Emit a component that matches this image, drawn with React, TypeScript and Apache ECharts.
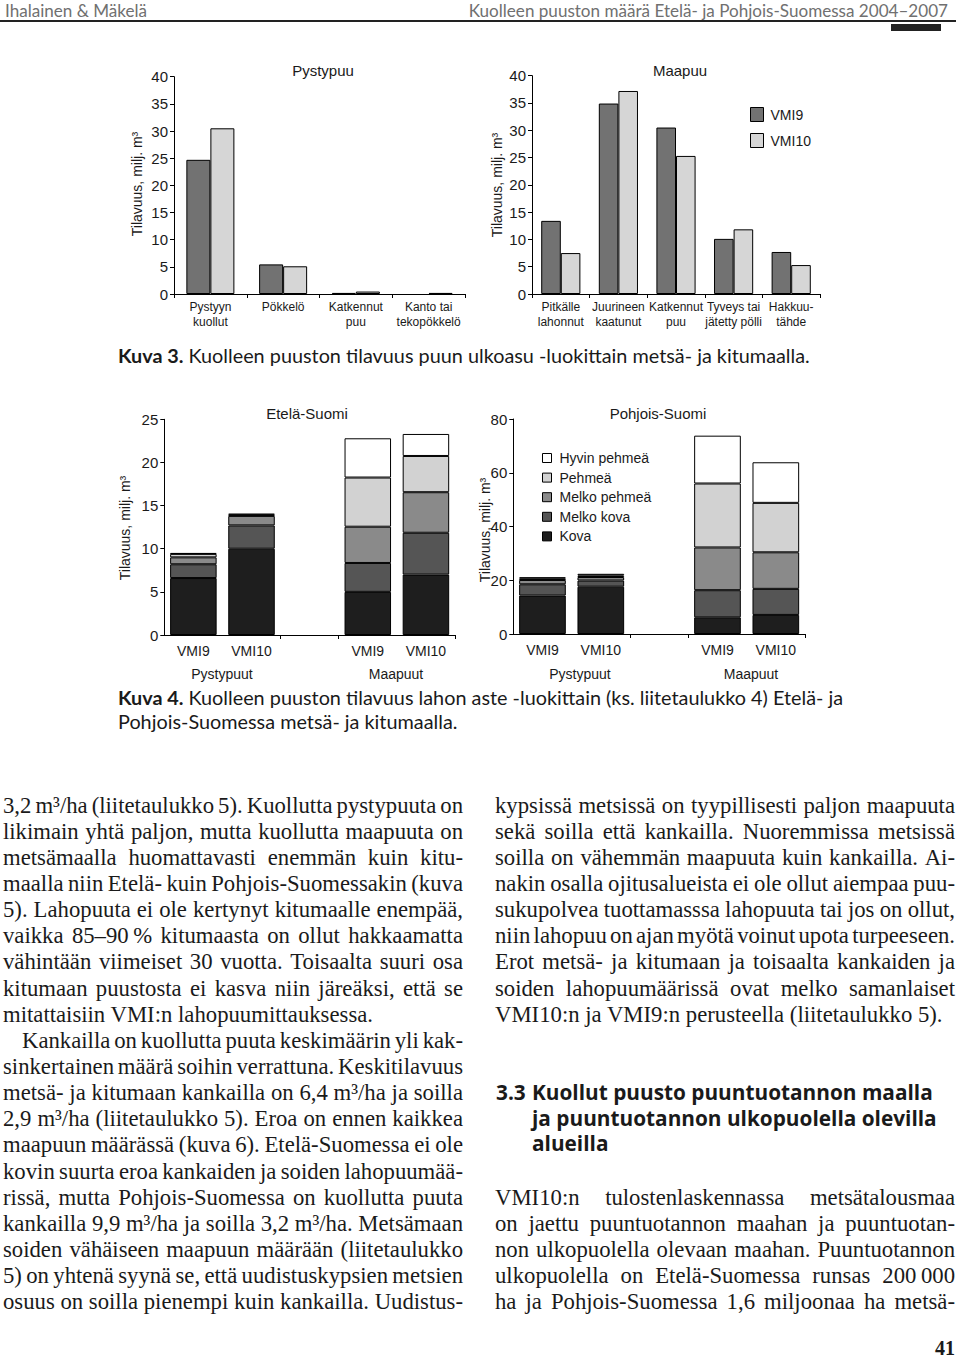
import React, { useEffect, useRef } from "react";
import * as echarts from "echarts";

// ---------- Kuva 3 data ----------
const inventories = ["VMI9", "VMI10"];
const standingCats = ["Pystyyn\nkuollut", "Pökkelö", "Katkennut\npuu", "Kanto tai\ntekopökkelö"];
const standingVMI9 = [24.7, 5.45, 0.2, null];
const standingVMI10 = [30.5, 5.1, 0.45, 0.2];
const lyingCats = ["Pitkälle\nlahonnut", "Juurineen\nkaatunut", "Katkennut\npuu", "Tyveys tai\njätetty pölli", "Hakkuu-\ntähde"];
const lyingVMI9 = [13.4, 34.9, 30.5, 10.1, 7.7];
const lyingVMI10 = [7.5, 37.2, 25.3, 11.85, 5.3];

// ---------- Kuva 4 data ----------
const decayCats = ["VMI9", "VMI10", "", "VMI9", "VMI10"];
const decayClasses = ["Kova", "Melko kova", "Melko pehmeä", "Pehmeä", "Hyvin pehmeä"];
const legendOrder = ["Hyvin pehmeä", "Pehmeä", "Melko pehmeä", "Melko kova", "Kova"];
const southKova = [6.6, 10.0, null, 5.0, 7.0];
const southMelkoKova = [1.6, 2.7, null, 3.35, 4.85];
const southMelkoPehmea = [0.8, 1.1, null, 4.2, 4.7];
const southPehmea = [0.4, 0.15, null, 5.7, 4.2];
const southHyvinPehmea = [0.1, 0.1, null, 4.55, 2.55];
const northKova = [14.3, 17.6, null, 6.2, 7.1];
const northMelkoKova = [4.2, 2.3, null, 10.1, 9.7];
const northMelkoPehmea = [1.6, 1.3, null, 15.9, 13.6];
const northPehmea = [0.6, 0.6, null, 23.8, 18.4];
const northHyvinPehmea = [0.4, 0.6, null, 17.8, 15.1];
const groupLabels = ["Pystypuut", "Maapuut"];

// ---------- Page text ----------
const headerLeft = "Ihalainen & Mäkelä";
const headerRight = "Kuolleen puuston määrä Etelä- ja Pohjois-Suomessa 2004–2007";
const caption3 = ["Kuva 3.", "Kuolleen puuston tilavuus puun ulkoasu -luokittain metsä- ja kitumaalla."];
const caption4a = ["Kuva 4.", "Kuolleen puuston tilavuus lahon aste -luokittain (ks. liitetaulukko 4) Etelä- ja"];
const caption4b = "Pohjois-Suomessa metsä- ja kitumaalla.";
const yName = "Tilavuus, milj. m³";

const leftCol = [
  "3,2 m³/ha (liitetaulukko 5). Kuollutta pystypuuta on",
  "likimain yhtä paljon, mutta kuollutta maapuuta on",
  "metsämaalla huomattavasti enemmän kuin kitu-",
  "maalla niin Etelä- kuin Pohjois-Suomessakin (kuva",
  "5). Lahopuuta ei ole kertynyt kitumaalle enempää,",
  "vaikka 85–90\u2009% kitumaasta on ollut hakkaamatta",
  "vähintään viimeiset 30 vuotta. Toisaalta suuri osa",
  "kitumaan puustosta ei kasva niin järeäksi, että se",
  "mitattaisiin VMI:n lahopuumittauksessa.",
  "Kankailla on kuollutta puuta keskimäärin yli kak-",
  "sinkertainen määrä soihin verrattuna. Keskitilavuus",
  "metsä- ja kitumaan kankailla on 6,4 m³/ha ja soilla",
  "2,9 m³/ha (liitetaulukko 5). Eroa on ennen kaikkea",
  "maapuun määrässä (kuva 6). Etelä-Suomessa ei ole",
  "kovin suurta eroa kankaiden ja soiden lahopuumää-",
  "rissä, mutta Pohjois-Suomessa on kuollutta puuta",
  "kankailla 9,9 m³/ha ja soilla 3,2 m³/ha. Metsämaan",
  "soiden vähäiseen maapuun määrään (liitetaulukko",
  "5) on yhtenä syynä se, että uudistuskypsien metsien",
  "osuus on soilla pienempi kuin kankailla. Uudistus-",
];
const leftLast = [8];
const leftIndent = [9];
const rightCol = [
  "kypsissä metsissä on tyypillisesti paljon maapuuta",
  "sekä soilla että kankailla. Nuoremmissa metsissä",
  "soilla on vähemmän maapuuta kuin kankailla. Ai-",
  "nakin osalla ojitusalueista ei ole ollut aiempaa puu-",
  "sukupolvea tuottamasssa lahopuuta tai jos on ollut,",
  "niin lahopuu on ajan myötä voinut upota turpeeseen.",
  "Erot metsä- ja kitumaan ja toisaalta kankaiden ja",
  "soiden lahopuumäärissä ovat melko samanlaiset",
  "VMI10:n ja VMI9:n perusteella (liitetaulukko 5).",
];
const headingNum = "3.3";
const headingLines = ["Kuollut puusto puuntuotannon maalla", "ja puuntuotannon ulkopuolella olevilla", "alueilla"];
const rightCol2 = [
  "VMI10:n tulostenlaskennassa metsätalousmaa",
  "on jaettu puuntuotannon maahan ja puuntuotan-",
  "non ulkopuolella olevaan maahan. Puuntuotannon",
  "ulkopuolella on Etelä-Suomessa runsas 200\u2009000",
  "ha ja Pohjois-Suomessa 1,6 miljoonaa ha metsä-",
];
const pageNo = "41";

const SANS = '"Liberation Sans", Arial, sans-serif';
const SERIF = '"Liberation Serif", "Times New Roman", serif';
const GILL = 'Lato, "Open Sans", sans-serif';
const HEAD = '"Open Sans", Lato, sans-serif';
const INK = "#1a1a1a";

const C_VMI9 = "#727272";
const C_VMI10 = "#d6d6d6";
const decayColors: Record<string, string> = {
  "Kova": "#1e1e1e",
  "Melko kova": "#555555",
  "Melko pehmeä": "#8a8a8a",
  "Pehmeä": "#d2d2d2",
  "Hyvin pehmeä": "#ffffff",
};

export default function App() {
  const ref = useRef<HTMLDivElement>(null);
  useEffect(() => {
    const chart = echarts.init(ref.current!, null, { renderer: "svg" });
    const cv = document.createElement("canvas");
    const ctx = cv.getContext("2d")!;
    const fontStr = (size: number, fam: string, weight = "normal") => `${weight} ${size}px ${fam}`;
    const tw = (s: string, size: number, fam: string, weight = "normal") => {
      ctx.font = fontStr(size, fam, weight);
      return ctx.measureText(s).width;
    };

    const bodySize =
      (20 * 369 / tw("mitattaisiin VMI:n lahopuumittauksessa.", 20, SERIF) +
        20 * 450 / tw("VMI10:n ja VMI9:n perusteella (liitetaulukko 5).", 20, SERIF)) / 2;
    const headSize = Math.min(
      18,
      (20 * 138 / tw(headerLeft, 20, GILL) + 20 * 494 / tw(headerRight, 20, GILL)) / 2
    );
    const capW = tw(caption4a[0], 20, GILL, "bold") + tw(" " + caption4a[1], 20, GILL);
    const capSize = 20 * 726 / capW;
    const headingSize = Math.min(21, 20 * 401 / tw(headingLines[0], 20, HEAD, "bold"));

    const txt = (x: number, y: number, text: string, size: number, fam: string, o: any = {}) => ({
      type: "text",
      x,
      y,
      rotation: o.rotation || 0,
      silent: true,
      style: {
        text,
        fontSize: size,
        fontFamily: fam,
        fontWeight: o.weight || "normal",
        fill: o.fill || INK,
        align: o.align || "left",
        verticalAlign: o.va || "middle",
      },
    });

    const graphics: any[] = [];
    const justified = (text: string, x0: number, width: number, y: number, justify: boolean) => {
      const words = text.split(" ");
      if (!justify || words.length < 2) {
        graphics.push(txt(x0, y, text, bodySize, SERIF));
        return;
      }
      const ws = words.map((w) => tw(w, bodySize, SERIF));
      const sum = ws.reduce((a, b) => a + b, 0);
      const gap = (width - sum) / (words.length - 1);
      let x = x0;
      words.forEach((w, i) => {
        graphics.push(txt(x, y, w, bodySize, SERIF));
        x += ws[i] + gap;
      });
    };

    // header
    graphics.push(txt(5, 10, headerLeft, headSize, GILL, { fill: "#707070" }));
    graphics.push(txt(948, 10, headerRight, headSize, GILL, { fill: "#707070", align: "right" }));
    graphics.push({ type: "line", silent: true, shape: { x1: 0, y1: 21, x2: 956, y2: 21 }, style: { stroke: "#222", lineWidth: 2 } });
    graphics.push({ type: "rect", silent: true, shape: { x: 891, y: 24, width: 50, height: 7 }, style: { fill: "#222" } });

    // chart titles
    graphics.push(txt(323, 70, "Pystypuu", 15, SANS, { align: "center" }));
    graphics.push(txt(680, 70, "Maapuu", 15, SANS, { align: "center" }));
    graphics.push(txt(307, 413, "Etelä-Suomi", 15, SANS, { align: "center" }));
    graphics.push(txt(658, 413, "Pohjois-Suomi", 15, SANS, { align: "center" }));
    // y names
    [[137, 184], [497, 185], [125, 528], [485, 530]].forEach(([x, y]) =>
      graphics.push(txt(x, y, yName, 14, SANS, { align: "center", rotation: Math.PI / 2 }))
    );
    // group labels
    graphics.push(txt(222, 674, groupLabels[0], 14, SANS, { align: "center" }));
    graphics.push(txt(396, 674, groupLabels[1], 14, SANS, { align: "center" }));
    graphics.push(txt(580, 674, groupLabels[0], 14, SANS, { align: "center" }));
    graphics.push(txt(751, 674, groupLabels[1], 14, SANS, { align: "center" }));

    // captions
    const cap = (x: number, y: number, bold: string, rest: string) => {
      graphics.push(txt(x, y, bold, capSize, GILL, { weight: "bold" }));
      const bw = tw(bold + " ", capSize, GILL, "bold");
      graphics.push(txt(x + bw, y, rest, capSize, GILL));
    };
    cap(118, 355, caption3[0], caption3[1]);
    cap(118, 697, caption4a[0], caption4a[1]);
    graphics.push(txt(118, 721, caption4b, capSize, GILL));

    // body text
    const LH = 26.15;
    leftCol.forEach((line, i) => {
      const indent = leftIndent.includes(i) ? 19 : 0;
      justified(line, 3 + indent, 460 - indent, 805 + i * LH, !leftLast.includes(i));
    });
    rightCol.forEach((line, i) => {
      justified(line, 495, 460, 805 + i * LH, i !== rightCol.length - 1);
    });
    graphics.push(txt(496, 1092, headingNum, headingSize, HEAD, { weight: "bold" }));
    headingLines.forEach((l, i) => graphics.push(txt(532, 1092 + i * 25.6, l, headingSize, HEAD, { weight: "bold" })));
    rightCol2.forEach((line, i) => {
      justified(line, 495, 460, 1197 + i * LH, true);
    });
    graphics.push(txt(955, 1348, pageNo, 20, SERIF, { weight: "bold", align: "right" }));

    const yAxisBase = (gridIndex: number, max: number, interval: number) => ({
      gridIndex,
      type: "value",
      min: 0,
      max,
      interval,
      axisLine: { show: true, lineStyle: { color: "#000", width: 1 } },
      axisTick: { show: true, length: 4, lineStyle: { color: "#000" } },
      axisLabel: { fontSize: 15, color: INK, margin: 6, fontFamily: SANS },
      splitLine: { show: false },
    });
    const xAxisBase = (gridIndex: number, data: string[], o: any = {}) => ({
      gridIndex,
      type: "category",
      data,
      axisLine: { show: true, lineStyle: { color: "#000", width: 1 } },
      axisTick: { show: true, length: 4, lineStyle: { color: "#000" }, ...(o.tick || {}) },
      axisLabel: { interval: 0, fontSize: o.fs || 12, lineHeight: o.lh || 15, margin: o.margin ?? 5, color: INK, fontFamily: SANS },
    });

    const border = { borderColor: "#000", borderWidth: 1 };
    const series: any[] = [
      { type: "bar", name: inventories[0], xAxisIndex: 0, yAxisIndex: 0, data: standingVMI9, itemStyle: { color: C_VMI9, ...border }, barGap: "0%", barCategoryGap: "34%" },
      { type: "bar", name: inventories[1], xAxisIndex: 0, yAxisIndex: 0, data: standingVMI10, itemStyle: { color: C_VMI10, ...border }, barGap: "0%", barCategoryGap: "34%" },
      { type: "bar", name: inventories[0], xAxisIndex: 1, yAxisIndex: 1, data: lyingVMI9, itemStyle: { color: C_VMI9, ...border }, barGap: "0%", barCategoryGap: "32%" },
      { type: "bar", name: inventories[1], xAxisIndex: 1, yAxisIndex: 1, data: lyingVMI10, itemStyle: { color: C_VMI10, ...border }, barGap: "0%", barCategoryGap: "32%" },
    ];
    const southData = [southKova, southMelkoKova, southMelkoPehmea, southPehmea, southHyvinPehmea];
    const northData = [northKova, northMelkoKova, northMelkoPehmea, northPehmea, northHyvinPehmea];
    decayClasses.forEach((name, i) => {
      series.push({ type: "bar", name, xAxisIndex: 2, yAxisIndex: 2, stack: "south", data: southData[i], itemStyle: { color: decayColors[name], ...border }, barCategoryGap: "20%" });
    });
    decayClasses.forEach((name, i) => {
      series.push({ type: "bar", name, xAxisIndex: 3, yAxisIndex: 3, stack: "north", data: northData[i], itemStyle: { color: decayColors[name], ...border }, barCategoryGap: "20%" });
    });

    const bottomTick = { interval: (index: number) => index === 2 || index === 3 };

    chart.setOption({
      animation: false,
      backgroundColor: "#fff",
      textStyle: { fontFamily: SANS },
      grid: [
        { left: 174, top: 76.7, width: 291, height: 217.3 },
        { left: 532, top: 75.7, width: 288, height: 218.3 },
        { left: 164.3, top: 419.3, width: 290.7, height: 215.7 },
        { left: 513.3, top: 419, width: 291.7, height: 215 },
      ],
      xAxis: [
        xAxisBase(0, standingCats),
        xAxisBase(1, lyingCats),
        xAxisBase(2, decayCats, { fs: 14, lh: 16, margin: 8, tick: bottomTick }),
        xAxisBase(3, decayCats, { fs: 14, lh: 16, margin: 8, tick: bottomTick }),
      ],
      yAxis: [yAxisBase(0, 40, 5), yAxisBase(1, 40, 5), yAxisBase(2, 25, 5), yAxisBase(3, 80, 20)],
      legend: [
        {
          data: inventories,
          orient: "vertical",
          left: 745,
          top: 102,
          itemWidth: 13,
          itemHeight: 14,
          itemGap: 11,
          icon: "rect",
          selectedMode: false,
          itemStyle: { borderColor: "#000", borderWidth: 1 },
          textStyle: { fontSize: 14, color: INK, fontFamily: SANS, padding: [0, 0, 0, 2] },
        },
        {
          data: legendOrder,
          orient: "vertical",
          left: 537,
          top: 446,
          itemWidth: 9,
          itemHeight: 9,
          itemGap: 5.6,
          icon: "rect",
          selectedMode: false,
          itemStyle: { borderColor: "#000", borderWidth: 1 },
          textStyle: { fontSize: 14, color: INK, fontFamily: SANS, padding: [0, 0, 0, 3] },
        },
      ],
      series,
      graphic: graphics,
    });
    return () => chart.dispose();
  }, []);
  return (
    <div
      ref={ref}
      style={{ position: "absolute", left: 0, top: 0, width: 960, height: 1361, background: "#fff" }}
    />
  );
}
